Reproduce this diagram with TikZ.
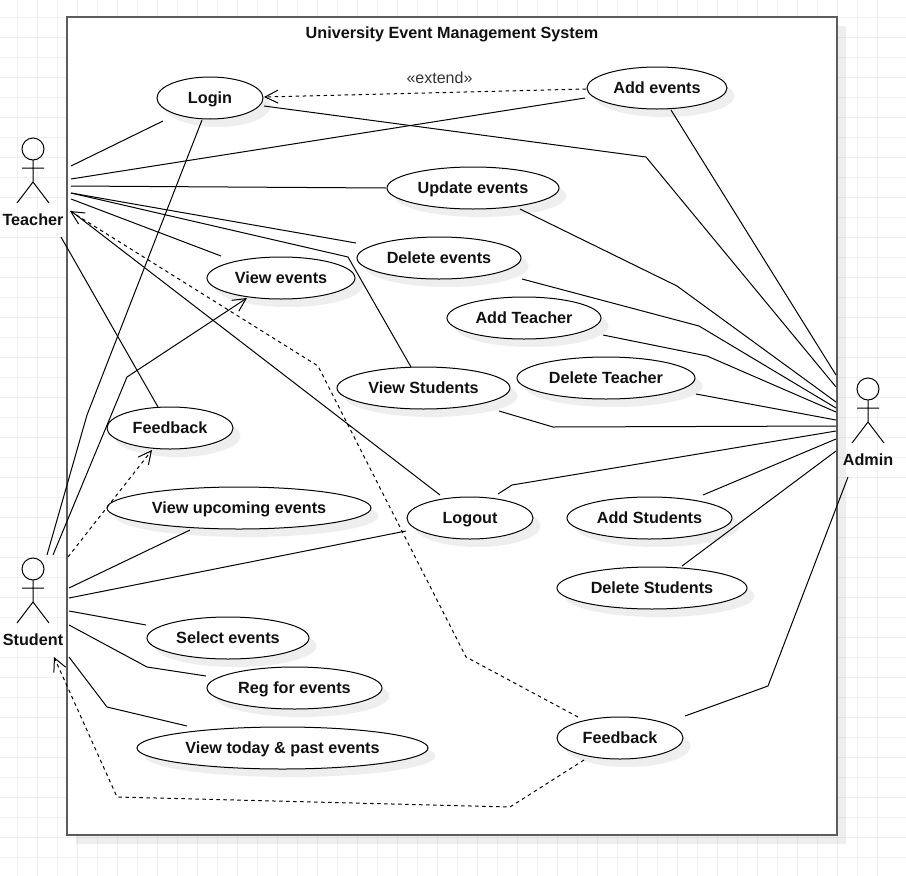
\documentclass[tikz,border=0pt]{standalone}
\usepackage{fontspec}
\setmainfont{Liberation Sans}
\usetikzlibrary{shapes.geometric,shadows,arrows.meta}
\definecolor{gridc}{HTML}{F0F0F0}
\definecolor{framec}{HTML}{5C5C5C}
\definecolor{inkc}{HTML}{111111}
\tikzset{
  x=1pt,y=-1pt,
  labeltext/.style={text=inkc,font=\fontsize{16.2}{18}\selectfont\bfseries,text height=11.6pt,text depth=1pt},
  usecase/.style={ellipse,draw=black,line width=1pt,fill=white,inner sep=0pt,minimum height=42pt,labeltext,
    general shadow={fill=black,opacity=.065,shadow xshift=7.5pt,shadow yshift=-8pt}},
  actorbox/.style={draw=none,inner sep=0pt,minimum width=32pt,minimum height=66pt},
  actorlabel/.style={inner sep=0pt,labeltext},
  assoc/.style={draw=black,line width=1pt},
  dep/.style={draw=black,line width=1pt,dash pattern=on 3.5pt off 3.5pt},
  opentip/.style={-{Straight Barb[length=13pt,width=13pt,line width=1pt]}},
}
\begin{document}
\begin{tikzpicture}
\useasboundingbox (0,0) rectangle (906,876);
\fill[white] (0,0) rectangle (906,876);
% page grid
\foreach \g in {17,37,...,877}{\draw[gridc,line width=1pt] (\g,0) -- (\g,876);}
\foreach \g in {17,37,...,857}{\draw[gridc,line width=1pt] (0,\g) -- (906,\g);}
% system frame
\node[draw=framec,fill=white,line width=2pt,inner sep=0pt,minimum width=770pt,minimum height=818pt,
  general shadow={fill=black,opacity=.065,shadow xshift=9pt,shadow yshift=-9pt}] (system) at (452,426) {};
\node[inner sep=0pt,labeltext] (title) at (452,33) {University Event Management System};
% actors
\node[actorbox] (teacher) at (33,170) {};
\node[actorbox] (student) at (33,590) {};
\node[actorbox] (admin) at (868,410) {};
\foreach \a in {teacher,student,admin}{
  \draw[black,line width=1pt] ([shift={(0,-21)}]\a.center) circle[radius=11pt];
  \draw[black,line width=1pt] ([shift={(0,-10)}]\a.center) -- ([shift={(0,12)}]\a.center)
     ([shift={(-11,-2)}]\a.center) -- ([shift={(11,-2)}]\a.center)
     ([shift={(-16,33)}]\a.center) -- ([shift={(0,12)}]\a.center) -- ([shift={(16,33)}]\a.center);
}
\node[actorlabel] (teacherlabel) at (33,220) {Teacher};
\node[actorlabel] (studentlabel) at (33,640) {Student};
\node[actorlabel] (adminlabel) at (868,460) {Admin};
% use cases
\node[usecase,minimum width=106pt] (login) at (210,98) {Login};
\node[usecase,minimum width=140pt] (addevents) at (657,88) {Add events};
\node[usecase,minimum width=172pt] (updateevents) at (473,188) {Update events};
\node[usecase,minimum width=164pt] (deleteevents) at (439,258) {Delete events};
\node[usecase,minimum width=148pt] (viewevents) at (281,278) {View events};
\node[usecase,minimum width=154pt] (addteacher) at (524,318) {Add Teacher};
\node[usecase,minimum width=173pt] (viewstudents) at (423.5,388) {View Students};
\node[usecase,minimum width=178pt] (deleteteacher) at (606,378) {Delete Teacher};
\node[usecase,minimum width=126pt] (feedbackt) at (170,428) {Feedback};
\node[usecase,minimum width=264pt] (upcoming) at (239,508) {View upcoming events};
\node[usecase,minimum width=126pt] (logout) at (470,518) {Logout};
\node[usecase,minimum width=165pt] (addstudents) at (649.5,518) {Add Students};
\node[usecase,minimum width=190pt] (deletestudents) at (652,588) {Delete Students};
\node[usecase,minimum width=162pt] (selectevents) at (228,638) {Select events};
\node[usecase,minimum width=175pt] (regevents) at (294.5,688) {Reg for events};
\node[usecase,minimum width=291pt] (todaypast) at (282.5,748) {View today \& past events};
\node[usecase,minimum width=126pt] (feedbacka) at (620,738) {Feedback};
% teacher connectors
\draw[assoc] ([shift={(38,-4)}]teacher.center) -- ([shift={(-47,23)}]login.center);
\draw[assoc] ([shift={(38,9)}]teacher.center) -- ([shift={(-72,10)}]addevents.center);
\draw[assoc] ([shift={(38,16)}]teacher.center) -- ([shift={(-87,0)}]updateevents.center);
\draw[assoc] ([shift={(38,23)}]teacher.center) -- ([shift={(-83,-15)}]deleteevents.center);
\draw[assoc] ([shift={(38,23)}]teacher.center) -- (348,257) -- ([shift={(-12.5,-21)}]viewstudents.center);
\draw[assoc] ([shift={(38,29)}]teacher.center) -- ([shift={(-60,-22)}]viewevents.center);
\draw[assoc] ([shift={(38,41)}]teacher.center) -- ([shift={(-30,-23)}]logout.center);
\draw[assoc] ([shift={(28,67)}]teacher.center) -- ([shift={(-12,-21)}]feedbackt.center);
\draw[dep,opentip] ([shift={(-42,-21)}]feedbacka.center) -- (466,657) -- (318,366) -- ([shift={(37,41)}]teacher.center);
% admin connectors
\draw[assoc] ([shift={(54,8)}]login.center) -- (646,157) -- ([shift={(-32,-23)}]admin.center);
\draw[assoc] ([shift={(14,22)}]addevents.center) -- ([shift={(-32,-35)}]admin.center);
\draw[assoc] ([shift={(47,21)}]updateevents.center) -- (677,286) -- ([shift={(-32,-8)}]admin.center);
\draw[assoc] ([shift={(83,21)}]deleteevents.center) -- (699,326) -- ([shift={(-32,-2)}]admin.center);
\draw[assoc] ([shift={(79,17)}]addteacher.center) -- (707,356) -- ([shift={(-32,2)}]admin.center);
\draw[assoc] ([shift={(90,16)}]deleteteacher.center) -- ([shift={(-32,10)}]admin.center);
\draw[assoc] ([shift={(75.5,23)}]viewstudents.center) -- (553,427) -- ([shift={(-32,16)}]admin.center);
\draw[assoc] ([shift={(28,-24)}]logout.center) -- (512,485) -- ([shift={(-32,21)}]admin.center);
\draw[assoc] ([shift={(53.5,-23)}]addstudents.center) -- ([shift={(-32,29)}]admin.center);
\draw[assoc] ([shift={(30,-22)}]deletestudents.center) -- ([shift={(-32,41)}]admin.center);
\draw[assoc] ([shift={(65,-22)}]feedbacka.center) -- (768,686) -- ([shift={(-20,67)}]admin.center);
% student connectors
\draw[assoc] ([shift={(14,-35)}]student.center) -- (87,415) -- ([shift={(-8,22)}]login.center);
\draw[assoc,opentip] ([shift={(20,-35)}]student.center) -- (127,377) -- ([shift={(-34,20)}]viewevents.center);
\draw[dep,opentip] ([shift={(35,-33)}]student.center) -- ([shift={(-18,22)}]feedbackt.center);
\draw[assoc] ([shift={(36,-2)}]student.center) -- ([shift={(-49,22)}]upcoming.center);
\draw[assoc] ([shift={(36,8)}]student.center) -- ([shift={(-64,13)}]logout.center);
\draw[assoc] ([shift={(36,21)}]student.center) -- ([shift={(-82,-13)}]selectevents.center);
\draw[assoc] ([shift={(36,35)}]student.center) -- (147,667) -- ([shift={(-88.5,-12)}]regevents.center);
\draw[assoc] ([shift={(36,67)}]student.center) -- (107,707) -- ([shift={(-95.5,-22)}]todaypast.center);
\draw[dep,opentip] ([shift={(-36,22)}]feedbacka.center) -- (510,807) -- (117,797) -- ([shift={(21,67)}]student.center);
% extend
\draw[dep,opentip] ([shift={(-71,1)}]addevents.center) -- node[pos=.455,above=8.5pt,inner sep=0pt,solid,text=black!80,font=\fontsize{16}{18}\selectfont] (extendlabel) {«extend»} ([shift={(54,-1)}]login.center);
\end{tikzpicture}
\end{document}
